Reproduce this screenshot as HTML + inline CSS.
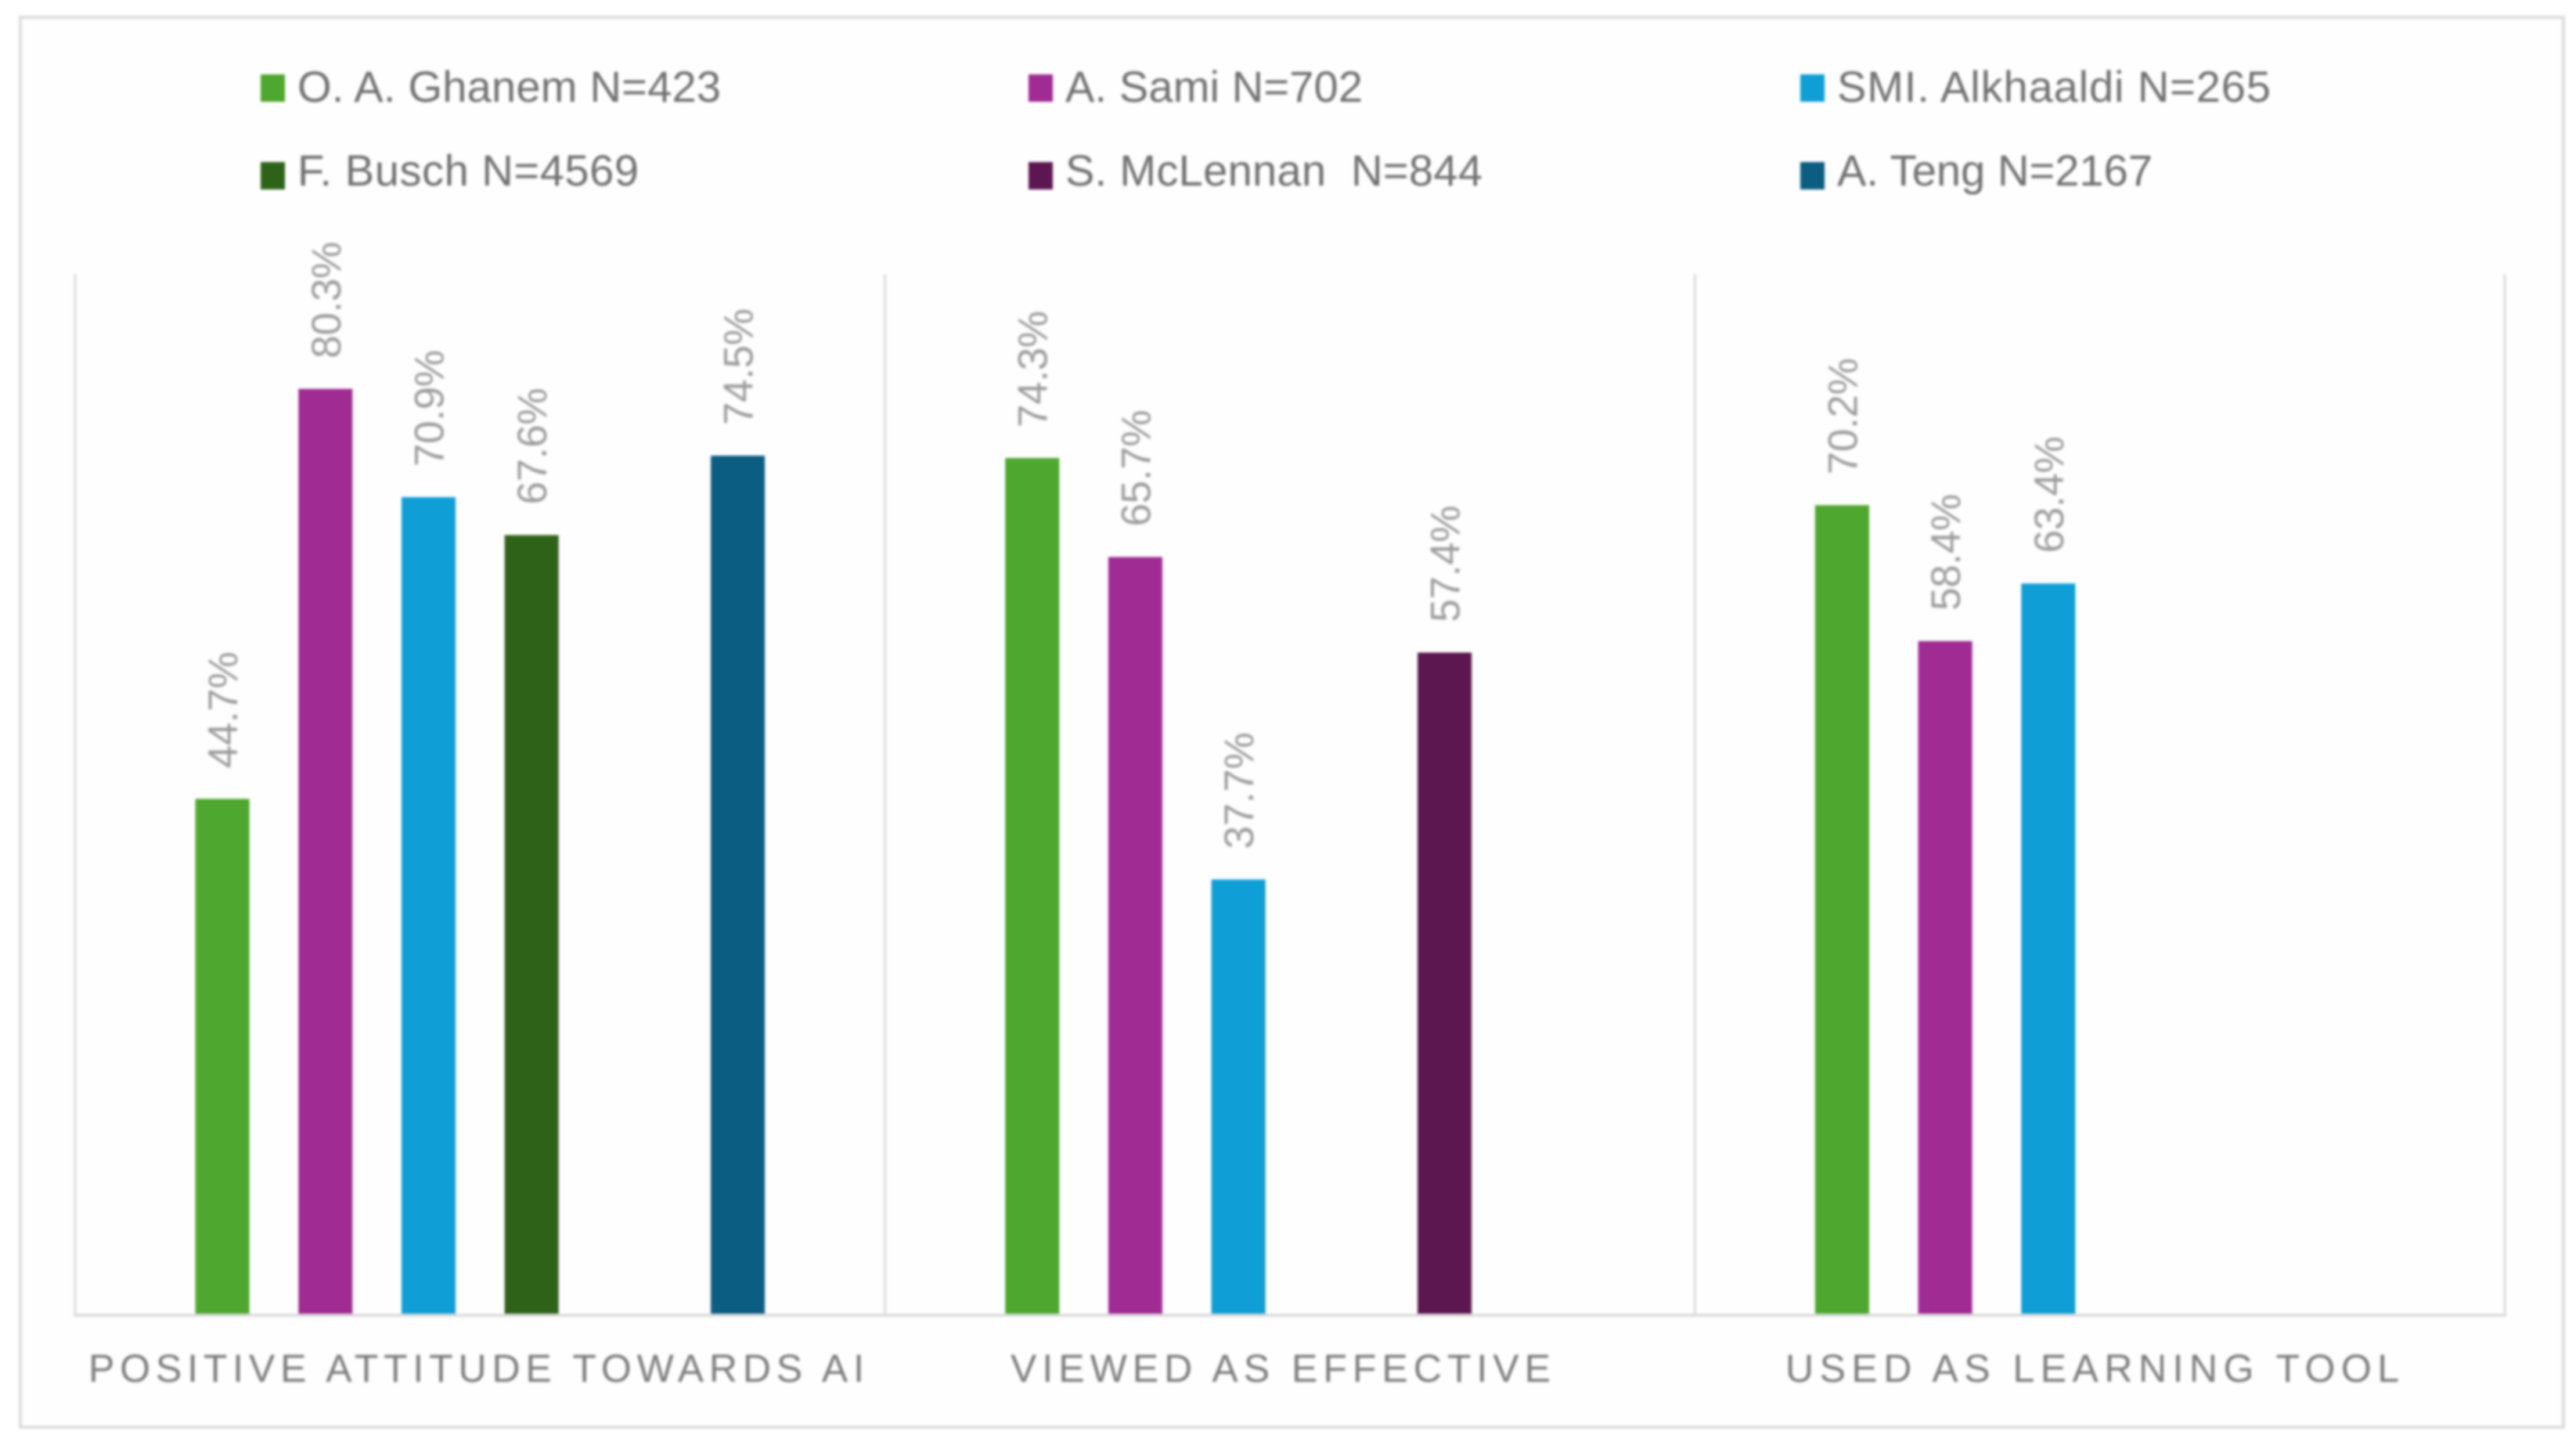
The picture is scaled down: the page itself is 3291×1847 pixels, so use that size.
<!DOCTYPE html>
<html lang="en">
<head>
<meta charset="utf-8">
<title>AI attitudes by study</title>
<style>
html,body{margin:0;padding:0;background:#fff;width:3291px;height:1847px;overflow:hidden}
svg{display:block;filter:blur(1.5px)}
text{font-family:"Liberation Sans",sans-serif;white-space:pre}
</style>
</head>
<body>
<svg id="chart" xmlns="http://www.w3.org/2000/svg" width="3291" height="1847" viewBox="0 0 3291 1847">
  <rect x="26" y="22" width="3249" height="1801" fill="#fefefe" stroke="#dcdcdc" stroke-width="4"/>
  <g id="grid"></g>
  <g id="bars"></g>
  <g id="values"></g>
  <g id="cats"></g>
  <g id="legend"></g>
</svg>
<script>
const categories = ["POSITIVE ATTITUDE TOWARDS AI", "VIEWED AS EFFECTIVE", "USED AS LEARNING TOOL"];
const seriesNames = ["O. A. Ghanem N=423", "A. Sami N=702", "SMI. Alkhaaldi N=265", "F. Busch N=4569", "S. McLennan  N=844", "A. Teng N=2167"];
const ghanem = [44.7, 74.3, 70.2];
const sami = [80.3, 65.7, 58.4];
const alkhaaldi = [70.9, 37.7, 63.4];
const busch = [67.6, null, null];
const mclennan = [null, 57.4, null];
const teng = [74.5, null, null];
const seriesColors = ["#4ea72e", "#a02b93", "#0f9ed5", "#2f6219", "#5c1650", "#0b5d82"];
const yMax = 90;

const allSeries = [ghanem, sami, alkhaaldi, busch, mclennan, teng];
const NS = "http://www.w3.org/2000/svg";
const plotLeft = 96, plotRight = 3200, plotBase = 1678, plotTop = 354;
const catW = (plotRight - plotLeft) / categories.length;
const barStep = 131.7, barW = 69;

function yPos(v) { return plotBase - (v / yMax) * (plotBase - plotTop); }
function catCenter(i) { return plotLeft + catW * (i + 0.5); }
function barCenter(c, s) { return catCenter(c) + (s - (allSeries.length - 1) / 2) * barStep; }
function mk(tag, attrs, parent) {
  const el = document.createElementNS(NS, tag);
  for (const k in attrs) el.setAttribute(k, attrs[k]);
  parent.appendChild(el);
  return el;
}

const grid = document.getElementById("grid");
for (let i = 0; i <= categories.length; i++) {
  const x = plotLeft + catW * i;
  const tick = mk("line", {x1: x, x2: x, y1: 350, y2: 1680, stroke: "#dcdcdc", "stroke-width": 3}, grid);
  
  
}
const axisLine = mk("line", {x1: plotLeft - 2, x2: plotRight + 2, y1: 1680, y2: 1680, stroke: "#dcdcdc", "stroke-width": 4}, grid);



const barsG = document.getElementById("bars");
const valuesG = document.getElementById("values");
allSeries.forEach(function (vals, s) {
  vals.forEach(function (v, c) {
    if (v === null) return;
    const cx = barCenter(c, s), top = yPos(v);
    const bar = mk("rect", {x: cx - barW / 2, y: top, width: barW, height: plotBase - top, fill: seriesColors[s]}, barsG);
    
    
    const ty = top - 39, tx = cx + 19;
    const lab = mk("text", {x: tx, y: ty, transform: "rotate(-90 " + tx + " " + ty + ")", "font-size": 53, fill: "#9c9c9c", textLength: 149, lengthAdjust: "spacing"}, valuesG);
    
    
    lab.textContent = v.toFixed(1) + "%";
  });
});

const catExtents = [[113, 991], [1291, 690], [2281, 784]];
const catsG = document.getElementById("cats");
categories.forEach(function (name, i) {
  const t = mk("text", {x: catExtents[i][0], y: 1765, "font-size": 50, fill: "#7d7d7d", textLength: catExtents[i][1], lengthAdjust: "spacing"}, catsG);
  
  
  t.textContent = name;
});

const legendSlots = [[333, 1], [1314, 1], [2300, 1], [333, 2], [1314, 2], [2300, 2]];
const legendWidths = [541, 380, 554, 436, 533, 403];
const legendG = document.getElementById("legend");
seriesNames.forEach(function (name, i) {
  const x = legendSlots[i][0], row = legendSlots[i][1];
  const base = row === 1 ? 130 : 237;
  const swTop = row === 1 ? 95 : 207;
  const sw = mk("rect", {x: x, y: swTop, width: 31, height: 35, fill: seriesColors[i]}, legendG);
  
  
  const t = mk("text", {x: x + 47, y: base, "font-size": 56, fill: "#707070", textLength: legendWidths[i], lengthAdjust: "spacing"}, legendG);
  
  
  t.textContent = name;
});
</script>
</body>
</html>
